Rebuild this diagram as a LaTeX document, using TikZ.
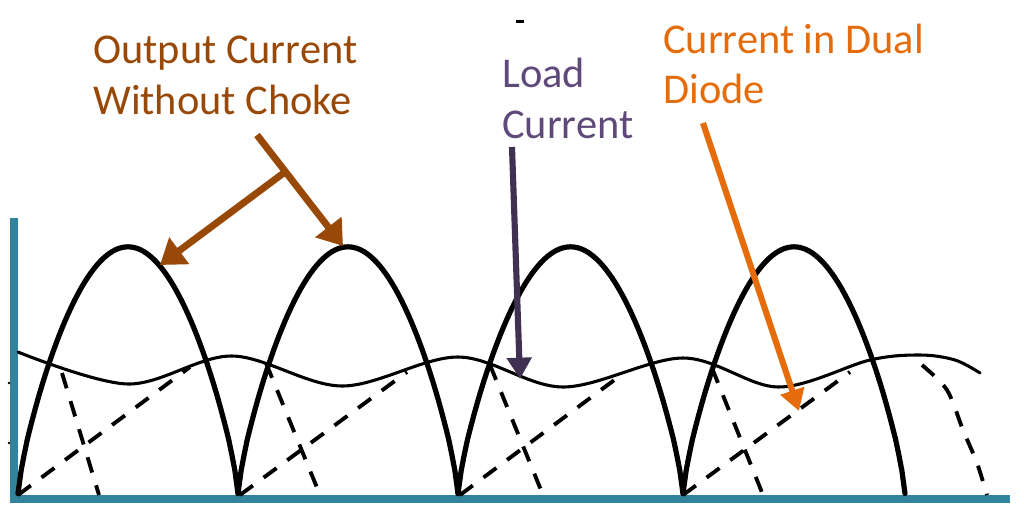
\documentclass[tikz,border=0pt]{standalone}
\usepackage{fontspec}
\setmainfont{Carlito}
\usetikzlibrary{arrows.meta}
\definecolor{axisTeal}{HTML}{31849B}
\definecolor{cBrown}{HTML}{984807}
\definecolor{cPurpleT}{HTML}{5F497A}
\definecolor{cPurpleA}{HTML}{403152}
\definecolor{cOrange}{HTML}{E46C0A}
\begin{document}
\begin{tikzpicture}[x=0.75pt,y=-0.75pt,
  axisline/.style={draw=axisTeal, line width=5.4pt, line join=miter},
  hump/.style={line width=3.9pt, line join=round, line cap=round},
  loadc/.style={line width=2.3pt, line cap=round},
  dline/.style={line width=2.9pt, dash pattern=on 12pt off 10pt},
  lbl/.style={font=\fontsize{31.8}{38}\selectfont, inner sep=0pt, anchor=base west},
  barrow/.style={draw=cBrown, line width=5.2pt, -{Triangle[length=18pt,width=24pt]}},
  parrow/.style={draw=cPurpleA, line width=4.6pt, -{Triangle[length=16pt,width=18pt]}},
  oarrow/.style={draw=cOrange, line width=4.6pt, -{Triangle[length=16pt,width=18pt]}}]
\useasboundingbox (0,0) rectangle (1024,515);

% axes
\draw[axisline] (14,218) -- (14,499) -- (1010,499);

% full-wave humps (output current without choke)
\foreach \a/\b in {18/238, 238/458, 458/683, 683/905}
  \draw[hump] plot[domain=0:180, samples=71, variable=\t]
    ({\a+(\b-\a)*(\t/180)}, {495 - 248*exp(0.75*ln(abs(sin(\t))+0.001))});

% load current ripple
\draw[loadc] plot[smooth, tension=0.55] coordinates {(18,352) (128,384) (232,356) (342,386) (458,357) (563,387) (683,358) (778,387) (870,360) (920,355) (955,360) (980,373)};

% diode currents (dashed)
\draw[dline] (18,495) -- (190,367);
\draw[dline] (240,495) -- (407,372);
\draw[dline] (460,495) -- (617,378);
\draw[dline] (683,495) -- (850,372);
\draw[dline] (62,373) -- (99,495);
\draw[dline] (266,363) -- (320,495);
\draw[dline] (490,365) -- (543,495);
\draw[dline] (712,368) -- (763,495);
\draw[dline] plot[smooth] coordinates {(922,365) (947,390) (963,430) (977,463) (987,495)};

% labels
\node[lbl, text=cBrown] (out1) at (93,63) {Output Current};
\node[lbl, text=cBrown] (out2) at (93,114) {Without Choke};
\node[lbl, text=cPurpleT] (load1) at (502,87) {Load};
\node[lbl, text=cPurpleT] (load2) at (502,138) {Current};
\node[lbl, text=cOrange] (dd1) at (663,53) {Current in Dual};
\node[lbl, text=cOrange] (dd2) at (663,103) {Diode};

% arrows
\coordinate (bs) at (257,135);
\coordinate (bj) at (285,172);
\coordinate (bt1) at (160,265);
\coordinate (bt2) at (343,246);
\draw[barrow] (bs) -- (bt2);
\draw[barrow] (bj) -- (bt1);
\coordinate (ps) at (512,147);
\coordinate (pt) at (520,379);
\draw[parrow] (ps) -- (pt);
\coordinate (os) at (703,123);
\coordinate (ot) at (799,411);
\draw[oarrow] (os) -- (ot);

% small marks
\fill (516,20) rectangle (524,23);
\fill (9,383) circle (1.3);
\fill (9,443) circle (1.3);
\end{tikzpicture}
\end{document}
